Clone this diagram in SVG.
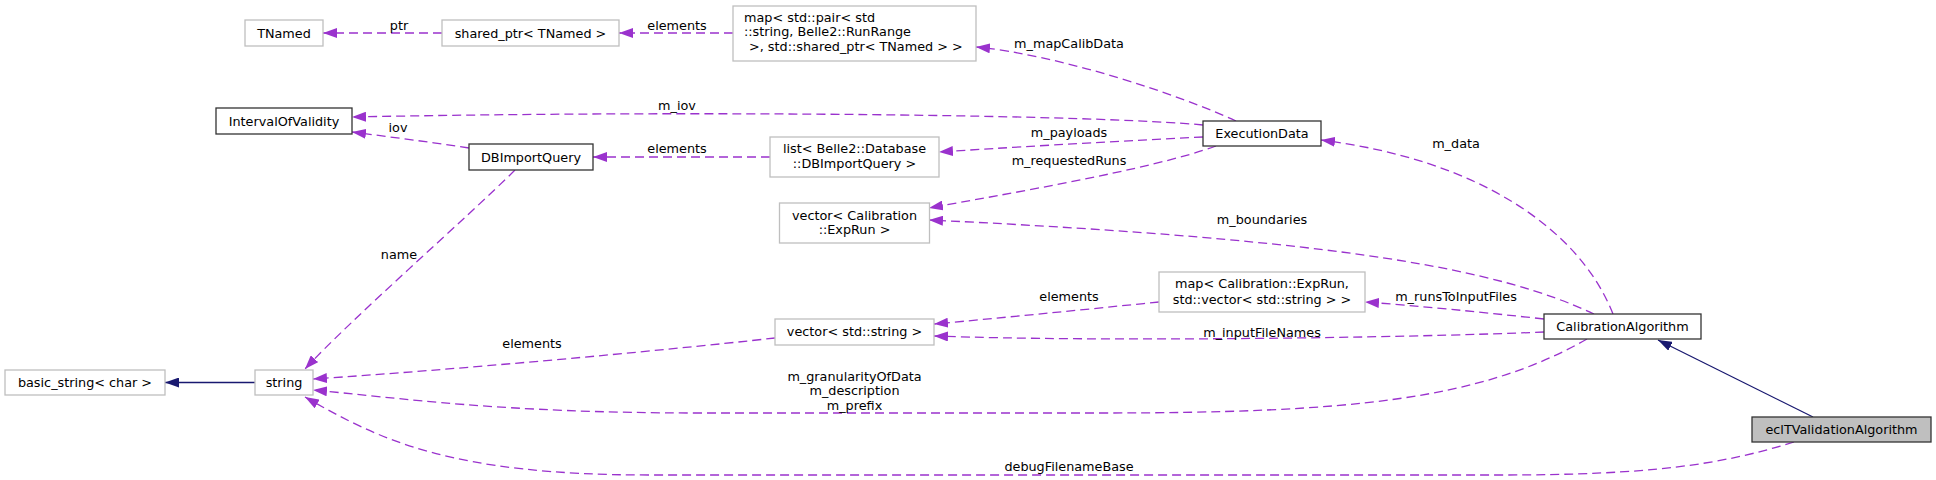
<svg xmlns="http://www.w3.org/2000/svg" width="1936" height="480" viewBox="0 0 1936 480">
<style>
text{font-family:"DejaVu Sans","Liberation Sans",sans-serif;font-size:12.8px;fill:#000}
.n rect{fill:#fff;stroke:#bfbfbf;stroke-width:1.3}
.d rect{fill:#fff;stroke:#333;stroke-width:1.3}
.cur rect{fill:#bfbfbf;stroke:#333;stroke-width:1.3}
.c{text-anchor:middle}
.e{fill:none;stroke:#9a32cd;stroke-width:1.3;stroke-dasharray:9,5;marker-end:url(#ap)}
.i{fill:none;stroke:#191970;stroke-width:1.3;marker-end:url(#an)}
.lbl{text-anchor:middle}
</style>
<defs>
<marker id="ap" viewBox="0 0 14 10" refX="14" refY="5" markerWidth="14" markerHeight="10" markerUnits="userSpaceOnUse" orient="auto"><path d="M0,0L14,5L0,10z" fill="#9a32cd"/></marker>
<marker id="an" viewBox="0 0 14 10" refX="14" refY="5" markerWidth="14" markerHeight="10" markerUnits="userSpaceOnUse" orient="auto"><path d="M0,0L14,5L0,10z" fill="#191970"/></marker>
</defs>
<rect width="1936" height="480" fill="#fff"/>
<g id="connectors">
<path class="e" d="M442,33L323,33"/>
<text class="lbl" x="399" y="29.5">ptr</text>
<path class="e" d="M733,33L619,33"/>
<text class="lbl" x="677" y="29.5">elements</text>
<path class="e" d="M1236,121C1180,95 1060,55 976,47"/>
<text class="lbl" x="1069" y="47.5">m_mapCalibData</text>
<path class="e" d="M1203,125C1100,115 700,110 352,117"/>
<text class="lbl" x="677" y="109.5">m_iov</text>
<path class="e" d="M1203,137C1100,142 1000,148 939,152"/>
<text class="lbl" x="1069" y="136.5">m_payloads</text>
<path class="e" d="M1216,146C1150,170 1000,195 929,208"/>
<text class="lbl" x="1069" y="164.5">m_requestedRuns</text>
<path class="e" d="M1613,314C1580,230 1480,160 1321,140"/>
<text class="lbl" x="1456" y="147.5">m_data</text>
<path class="e" d="M469,148C430,142 390,137 352,132"/>
<text class="lbl" x="398" y="131.5">iov</text>
<path class="e" d="M770,157L593,157"/>
<text class="lbl" x="677" y="152.5">elements</text>
<path class="e" d="M1594,314C1500,270 1350,240 929,220"/>
<text class="lbl" x="1262" y="223.5">m_boundaries</text>
<path class="e" d="M515,170C470,215 350,320 305,369"/>
<text class="lbl" x="399" y="258.5">name</text>
<path class="e" d="M1159,302C1080,310 1000,318 934,324"/>
<text class="lbl" x="1069" y="300.5">elements</text>
<path class="e" d="M1544,319C1480,312 1420,306 1365,302"/>
<text class="lbl" x="1456" y="300.5">m_runsToInputFiles</text>
<path class="e" d="M1544,332C1400,338 1100,342 934,336"/>
<text class="lbl" x="1262" y="336.5">m_inputFileNames</text>
<path class="e" d="M775,338C650,352 450,370 313,379"/>
<text class="lbl" x="532" y="347.5">elements</text>
<path class="e" d="M1587,339C1480,400 1350,413 1100,413L700,413C500,413 400,398 313,390"/>
<text class="lbl" x="854.5" y="380.5">m_granularityOfData</text>
<text class="lbl" x="854.5" y="395">m_description</text>
<text class="lbl" x="854.5" y="409.5">m_prefix</text>
<path class="e" d="M1794,442C1720,465 1650,475 1500,475L650,475C450,475 380,440 305,397"/>
<text class="lbl" x="1069" y="470.5">debugFilenameBase</text>
<path class="i" d="M255,382.5L165,382.5"/>
<path class="i" d="M1813,417L1658,340"/>
</g>
<g id="node-TNamed" class="n"><rect x="245" y="20" width="78" height="26"/><text class="c" x="284" y="37.5">TNamed</text></g>
<g id="node-shared_ptr" class="n"><rect x="442" y="20" width="177" height="26"/><text class="c" x="530.5" y="37.5">shared_ptr&lt; TNamed &gt;</text></g>
<g id="node-mapCalib" class="n"><rect x="733" y="6" width="243" height="55"/><text x="744" y="21.5">map&lt; std::pair&lt; std</text><text x="744" y="36">::string, Belle2::RunRange</text><text x="749" y="50.5">&gt;, std::shared_ptr&lt; TNamed &gt; &gt;</text></g>
<g id="node-IntervalOfValidity" class="d"><rect x="216" y="108" width="136" height="26"/><text class="c" x="284" y="125.5">IntervalOfValidity</text></g>
<g id="node-DBImportQuery" class="d"><rect x="469" y="144" width="124" height="26"/><text class="c" x="531" y="161.5">DBImportQuery</text></g>
<g id="node-list" class="n"><rect x="770" y="137" width="169" height="40"/><text class="c" x="854.5" y="152.5">list&lt; Belle2::Database</text><text class="c" x="854.5" y="167.5">::DBImportQuery &gt;</text></g>
<g id="node-ExecutionData" class="d"><rect x="1203" y="121" width="118" height="25"/><text class="c" x="1262" y="138">ExecutionData</text></g>
<g id="node-vectorExpRun" class="n"><rect x="779.5" y="203" width="150" height="40"/><text class="c" x="854.5" y="219.5">vector&lt; Calibration</text><text class="c" x="854.5" y="233.5">::ExpRun &gt;</text></g>
<g id="node-mapExpRun" class="n"><rect x="1159" y="272" width="206" height="40"/><text class="c" x="1262" y="287.5">map&lt; Calibration::ExpRun,</text><text class="c" x="1262" y="303.5">std::vector&lt; std::string &gt; &gt;</text></g>
<g id="node-vectorString" class="n"><rect x="775" y="319" width="159" height="26"/><text class="c" x="854.5" y="336">vector&lt; std::string &gt;</text></g>
<g id="node-CalibrationAlgorithm" class="d"><rect x="1544" y="314" width="157" height="25"/><text class="c" x="1622.5" y="331">CalibrationAlgorithm</text></g>
<g id="node-eclTValidationAlgorithm" class="cur"><rect x="1752" y="417" width="179" height="25"/><text class="c" x="1841.5" y="434">eclTValidationAlgorithm</text></g>
<g id="node-basic_string" class="n"><rect x="5" y="370" width="160" height="25"/><text class="c" x="85" y="387">basic_string&lt; char &gt;</text></g>
<g id="node-string" class="n"><rect x="255" y="370" width="58" height="25"/><text class="c" x="284" y="387">string</text></g>
</svg>
